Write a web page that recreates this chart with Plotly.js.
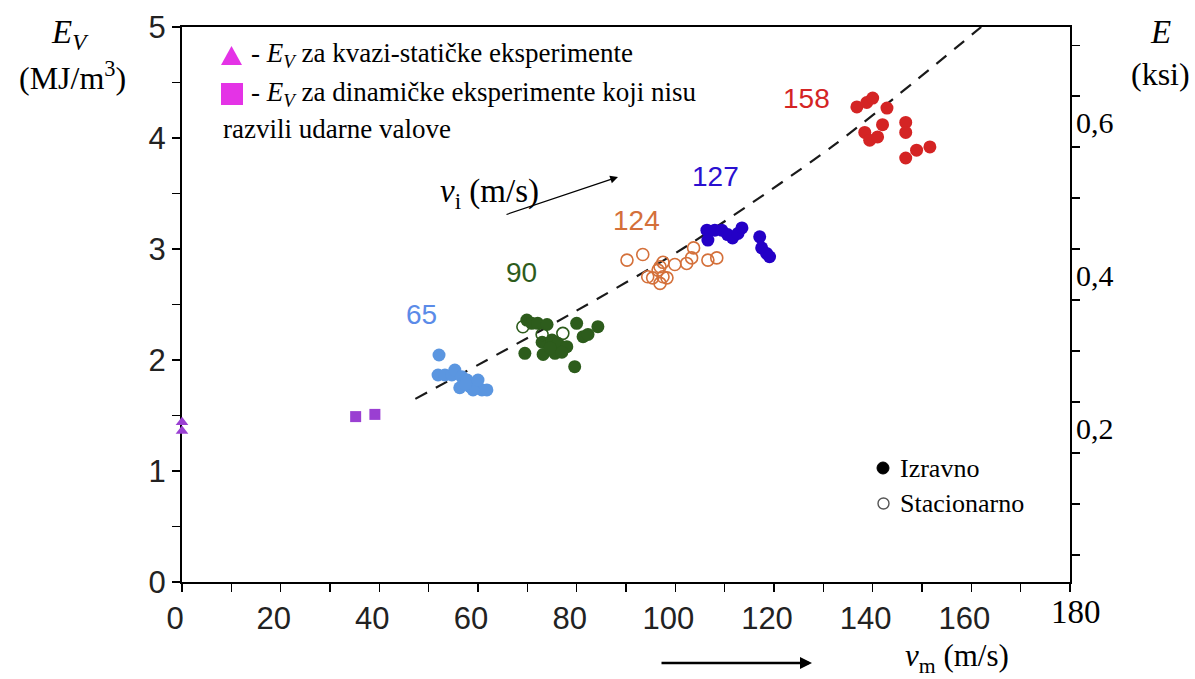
<!DOCTYPE html>
<html>
<head>
<meta charset="utf-8">
<script src="https://cdn.plot.ly/plotly-3.0.1.min.js"></script>
<style>html,body{margin:0;padding:0;background:#fff;}#chart{width:1195px;height:679px;}</style>
</head>
<body>
<div id="chart"></div>
<script>
// ---- data (v_m in m/s, E_V in MJ/m^3) ----
const blue65_v = [52.1, 51.9, 53.3, 54.7, 55.3, 56.7, 57.8, 58.4, 59.8, 60.8, 61.8, 56.3, 59.0, 60.0, 57.5];
const blue65_E = [2.045, 1.865, 1.865, 1.865, 1.91, 1.85, 1.82, 1.76, 1.775, 1.73, 1.73, 1.75, 1.73, 1.82, 1.78];

const green90_v = [69.9, 70.9, 72.1, 74.0, 80.0, 84.3, 81.3, 82.3, 73.0, 75.0, 76.2, 78.0, 69.5, 73.2, 75.6, 74.6, 77.0, 79.6];
const green90_E = [2.36, 2.33, 2.33, 2.32, 2.33, 2.30, 2.21, 2.23, 2.16, 2.18, 2.15, 2.12, 2.06, 2.05, 2.06, 2.11, 2.07, 1.94];
const green90open_v = [69.1, 77.2, 73.0];
const green90open_E = [2.30, 2.24, 2.23];

const orange124_v = [90.2, 93.4, 97.5, 99.9, 102.3, 103.3, 103.7, 96.9, 96.5, 94.4, 95.4, 97.5, 98.3, 96.9, 106.6, 108.4];
const orange124_E = [2.90, 2.95, 2.88, 2.86, 2.87, 2.92, 3.01, 2.84, 2.81, 2.75, 2.74, 2.75, 2.74, 2.69, 2.90, 2.92];

const navy127_v = [106.4, 106.6, 108.0, 109.4, 110.6, 111.6, 112.7, 113.5, 117.1, 117.5, 118.5, 119.1];
const navy127_E = [3.17, 3.08, 3.17, 3.17, 3.13, 3.10, 3.14, 3.19, 3.11, 3.01, 2.96, 2.93];

const red158_v = [136.8, 138.8, 140.0, 142.9, 142.0, 138.4, 139.4, 141.0, 146.7, 146.7, 151.6, 148.9, 146.7];
const red158_E = [4.28, 4.32, 4.36, 4.27, 4.12, 4.05, 3.98, 4.01, 4.14, 4.05, 3.92, 3.89, 3.82];

const quasiStatic_v = [0, 0];
const quasiStatic_E = [1.44, 1.36];
const dynNoShock_v = [35.2, 39.1];
const dynNoShock_E = [1.49, 1.51];

// dashed trend curve
const trend_v = [47.3, 78.6, 102.1, 132.3, 162.0];
const trend_E = [1.65, 2.41, 3.02, 3.94, 5.0];

const xTickVals = [0, 20, 40, 60, 80, 100, 120, 140, 160];
const yTickVals = [0, 1, 2, 3, 4, 5];
const ksiTickVals = [0.2, 0.4, 0.6];
const MJ_PER_KSI = 6.895;

// ---- layout helpers (pixel -> paper) ----
const W = 1195, H = 679, L = 182, R = 1070, T = 27, B = 582;
const px = x => (x - L) / (R - L);
const py = y => (B - y) / (B - T);
const SERIF = 'Liberation Serif, Times New Roman, serif';
const SANS = 'Liberation Sans Narrow, Arial Narrow, Liberation Sans, Arial, sans-serif';
const SANS2 = 'Liberation Sans, Arial, sans-serif';

function ann(text, x, y, size, color, xanchor, family) {
  return {text: text, xref: 'paper', yref: 'paper', x: px(x), y: py(y), showarrow: false,
    xanchor: xanchor || 'center', yanchor: 'middle',
    font: {family: family || SERIF, size: size, color: color || '#000'}};
}

const mk = (color) => ({color: color, size: 13, line: {width: 0}});
const openMk = (color) => ({color: color, size: 12, symbol: 'circle-open', line: {width: 1.6}});

const traces = [
  {x: trend_v, y: trend_E, mode: 'lines', line: {color: '#1a1a1a', width: 2.2, dash: '13px,10px', shape: 'spline', smoothing: 0.8}, hoverinfo: 'skip'},
  {x: blue65_v, y: blue65_E, mode: 'markers', marker: mk('#5b96e0')},
  {x: green90_v, y: green90_E, mode: 'markers', marker: mk('#2d5c1c')},
  {x: green90open_v, y: green90open_E, mode: 'markers', marker: openMk('#2d5c1c')},
  {x: orange124_v, y: orange124_E, mode: 'markers', marker: openMk('#d4703a')},
  {x: navy127_v, y: navy127_E, mode: 'markers', marker: mk('#2400c6')},
  {x: red158_v, y: red158_E, mode: 'markers', marker: mk('#d42424')},
  {x: quasiStatic_v, y: quasiStatic_E, mode: 'markers', cliponaxis: false, marker: {color: '#9a3fd2', size: 11, symbol: 'triangle-up'}},
  {x: dynNoShock_v, y: dynNoShock_E, mode: 'markers', marker: {color: '#9a3fd2', size: 11, symbol: 'square'}},
  // right axes (ksi) carriers, invisible
  {x: [0], y: [0], yaxis: 'y2', mode: 'markers', marker: {opacity: 0}, hoverinfo: 'skip'},
  {x: [0], y: [0], yaxis: 'y3', mode: 'markers', marker: {opacity: 0}, hoverinfo: 'skip'}
];

const axisLine = {showline: true, linecolor: '#000', linewidth: 2, showgrid: false, zeroline: false};

const layout = {
  width: W, height: H,
  margin: {l: L, r: W - R, t: T, b: H - B, pad: 0},
  paper_bgcolor: '#fff', plot_bgcolor: '#fff',
  showlegend: false,
  separators: ',.',
  xaxis: Object.assign({}, axisLine, {
    range: [0, 180], mirror: true, layer: 'below traces',
    tickmode: 'array', tickvals: xTickVals,
    ticks: 'outside', ticklen: 8, tickwidth: 1.5, tickcolor: '#000',
    minor: {dtick: 10, ticks: 'outside', ticklen: 8, tickwidth: 1.5, tickcolor: '#000'},
    ticklabelshift: -7,
    tickfont: {family: SANS, size: 31, color: '#222'}
  }),
  yaxis: Object.assign({}, axisLine, {
    range: [0, 5], layer: 'below traces',
    tickmode: 'array', tickvals: yTickVals,
    ticks: 'outside', ticklen: 8, tickwidth: 1.5, tickcolor: '#000',
    minor: {dtick: 0.5, ticks: 'outside', ticklen: 8, tickwidth: 1.5, tickcolor: '#000'},
    tickfont: {family: SANS, size: 31, color: '#222'}
  }),
  yaxis2: Object.assign({}, axisLine, {
    overlaying: 'y', side: 'right', range: [0, 5 / MJ_PER_KSI], layer: 'below traces',
    tickmode: 'linear', tick0: 0.0353, dtick: 0.0666,
    ticks: 'outside', ticklen: 8, tickwidth: 1.5, tickcolor: '#000',
    showticklabels: false
  }),
  yaxis3: {
    overlaying: 'y', side: 'right', anchor: 'x', range: [0, 5 / MJ_PER_KSI],
    showline: false, showgrid: false, zeroline: false,
    tickmode: 'array', tickvals: ksiTickVals, ticks: '',
    ticklabelstandoff: 5,
    tickfont: {family: SERIF, size: 30, color: '#000'}
  },
  shapes: [
    // top-left legend symbols
    {type: 'path', xref: 'paper', yref: 'paper', path: `M ${px(221)} ${py(65)} L ${px(242)} ${py(65)} L ${px(231.5)} ${py(46)} Z`, fillcolor: '#e433e6', line: {width: 0}},
    {type: 'rect', xref: 'paper', yref: 'paper', x0: px(221), x1: px(243), y0: py(105), y1: py(83), fillcolor: '#e433e6', line: {width: 0}},
    // bottom-right legend symbols
    {type: 'circle', xref: 'paper', yref: 'paper', x0: px(877), x1: px(889), y0: py(474), y1: py(462), fillcolor: '#000', line: {color: '#000', width: 1}},
    {type: 'circle', xref: 'paper', yref: 'paper', x0: px(878), x1: px(889), y0: py(509), y1: py(498), fillcolor: 'rgba(0,0,0,0)', line: {color: '#555', width: 1.4}}
  ],
  annotations: [
    ann('<i>E<sub>V</sub></i>', 70, 35, 33),
    ann('(MJ/m<sup>3</sup>)', 72, 76, 32),
    ann('<i>E</i>', 1160, 32, 33),
    ann('(ksi)', 1160, 74, 32),
    ann('180', 1076, 612, 33),
    ann('- <i>E<sub>V</sub></i> za kvazi-statičke eksperimente', 249, 55, 27, '#000', 'left'),
    ann('- <i>E<sub>V</sub></i> za dinamičke eksperimente koji nisu', 249, 94, 27, '#000', 'left'),
    ann('razvili udarne valove', 221, 129, 27, '#000', 'left'),
    ann('Izravno', 898, 468, 26, '#000', 'left'),
    ann('Stacionarno', 898, 503, 26, '#000', 'left'),
    ann('65', 421, 314, 28, '#5b8be8', 'center', SANS2),
    ann('90', 521, 272, 28, '#2d5c1c', 'center', SANS2),
    ann('124', 636, 220, 28, '#d4703a', 'center', SANS2),
    ann('127', 715, 176, 28, '#2a10d0', 'center', SANS2),
    ann('158', 806, 98, 28, '#d42424', 'center', SANS2),
    ann('<i>v</i><sub>i</sub> (m/s)', 489, 193, 33),
    ann('<i>v</i><sub>m</sub> (m/s)', 957, 658, 31),
    {text: '', xref: 'paper', yref: 'paper', x: px(618), y: py(177), ax: 505 - 618, ay: 215 - 177,
      showarrow: true, arrowhead: 2, arrowsize: 1.3, arrowwidth: 1.2, arrowcolor: '#000'},
    {text: '', xref: 'paper', yref: 'paper', x: px(812), y: py(663), ax: 660 - 812, ay: 0,
      showarrow: true, arrowhead: 2, arrowsize: 1, arrowwidth: 2.4, arrowcolor: '#000'}
  ]
};

Plotly.newPlot('chart', traces, layout, {staticPlot: true, displayModeBar: false});
</script>
</body>
</html>
